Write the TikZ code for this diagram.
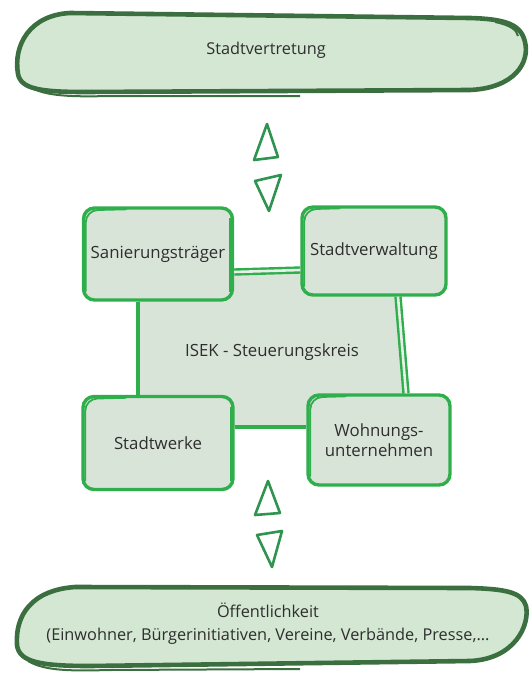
\documentclass[tikz,border=0pt]{standalone}
\usepackage{fontspec}
\setmainfont{Open Sans}
\definecolor{boxgreen}{HTML}{2FAE4C}
\definecolor{boxfill}{HTML}{D9E4D9}
\definecolor{pillfill}{HTML}{D3E7D3}
\definecolor{pillline}{HTML}{3C6F40}
\definecolor{trigreen}{HTML}{2E9450}
\definecolor{txt}{HTML}{2E2E2E}
\tikzset{
  x=1pt, y=-1pt,
  box/.style={draw=boxgreen, line width=3.4pt, fill=boxfill, rounded corners=11pt,
    text=txt, font=\fontsize{16.8}{19.5}\selectfont, align=center, inner sep=0pt},
  sketch/.style={draw=boxgreen, line width=1.8pt, rounded corners=12pt},
  conn/.style={draw=boxgreen, line width=4.2pt},
  dconn/.style={draw=boxgreen, line width=2.4pt, double=boxfill!60!white, double distance=2.6pt},
  pill/.style={draw=pillline, line width=4.6pt, fill=pillfill},
  pillsk/.style={draw=pillline, line width=2pt},
  tri/.style={draw=trigreen, line width=2.6pt, line join=round},
  lbl/.style={text=txt, font=\fontsize{16.3}{23}\selectfont, align=center}
}
\begin{document}
\begin{tikzpicture}
\useasboundingbox (0,0) rectangle (530,675);
% top pill
\path[pill] (70,13) .. controls (30,15) and (13,45) .. (18,74)
  .. controls (21,89) and (40,92) .. (85,92) -- (470,90)
  .. controls (515,88) and (530,62) .. (525,42)
  .. controls (521,24) and (505,19) .. (470,18) -- cycle;
\draw[pillsk] (30,87) .. controls (45,96) and (70,97) .. (110,96) -- (300,96);
\draw[pillsk] (495,22) .. controls (510,25) and (517,30) .. (518,36);
\node[lbl] (rat) at (266,50) {Stadtvertretung};
% bottom pill
\path[pill] (75,587) .. controls (32,590) and (15,615) .. (17,645)
  .. controls (19,662) and (40,666) .. (90,666) -- (470,661)
  .. controls (515,659) and (530,625) .. (526,606)
  .. controls (522,592) and (505,589) .. (470,588) -- cycle;
\draw[pillsk] (28,661) .. controls (45,671) and (70,671) .. (110,670) -- (300,669);
\node[lbl] (pub) at (268,624) {Öffentlichkeit\\(Einwohner, Bürgerinitiativen, Vereine, Verbände, Presse,...};
% triangles top
\draw[tri] (267,124) -- (254,160) -- (278,157) -- cycle;
\draw[tri] (255,181) -- (281,175) -- (269,211) -- cycle;
% triangles bottom
\draw[tri] (268,481) -- (255,515) -- (280,513) -- cycle;
\draw[tri] (257,535) -- (282,531) -- (272,567) -- cycle;
% central fill
\coordinate (c1) at (138,270);
\coordinate (c2) at (399,270);
\coordinate (c3) at (407,427);
\coordinate (c4) at (138,427);
\fill[boxfill] (c1) -- (c2) -- (c3) -- (c4) -- cycle;
% boxes
\node[box, minimum width=149pt, minimum height=92pt] (s) at (158,254) {Sanierungsträger};
\node[box, minimum width=144pt, minimum height=88pt] (v) at (374,251) {Stadtverwaltung};
\node[box, minimum width=150pt, minimum height=93pt] (k) at (158,443) {Stadtwerke};
\node[box, minimum width=142pt, minimum height=90pt] (w) at (379,440) {Wohnungs-\\unternehmen};
\node[text=txt, font=\fontsize{16.8}{19.5}\selectfont] (isek) at (272,352) {ISEK - Steuerungskreis};
% sketch strokes (inner second outline at the upper left)
\draw[sketch] ([shift={(4,-10)}]s.south west) -- ([shift={(4,4)}]s.north west) -- ([shift={(45,3)}]s.north west);
\draw[sketch] ([shift={(-4,12)}]s.north east) -- ([shift={(-4,-10)}]s.south east);
\draw[sketch] ([shift={(4,-10)}]v.south west) -- ([shift={(4,4)}]v.north west) -- ([shift={(40,3)}]v.north west);
\draw[sketch] ([shift={(4,-10)}]k.south west) -- ([shift={(4,4)}]k.north west) -- ([shift={(45,3)}]k.north west);
\draw[sketch] ([shift={(-4,12)}]k.north east) -- ([shift={(-4,-10)}]k.south east);
\draw[sketch] ([shift={(4,-10)}]w.south west) -- ([shift={(4,4)}]w.north west) -- ([shift={(40,3)}]w.north west);
% connectors
\draw[dconn] ([yshift=-18pt]s.east) -- ([yshift=-19pt]v.west);
\draw[conn] ([xshift=-20pt]s.south) -- ([xshift=-20pt]k.north);
\draw[dconn] ([xshift=24pt]v.south) -- ([xshift=27pt]w.north);
\draw[conn] ([yshift=16pt]k.east) -- ([yshift=13pt]w.west);
\end{tikzpicture}
\end{document}
